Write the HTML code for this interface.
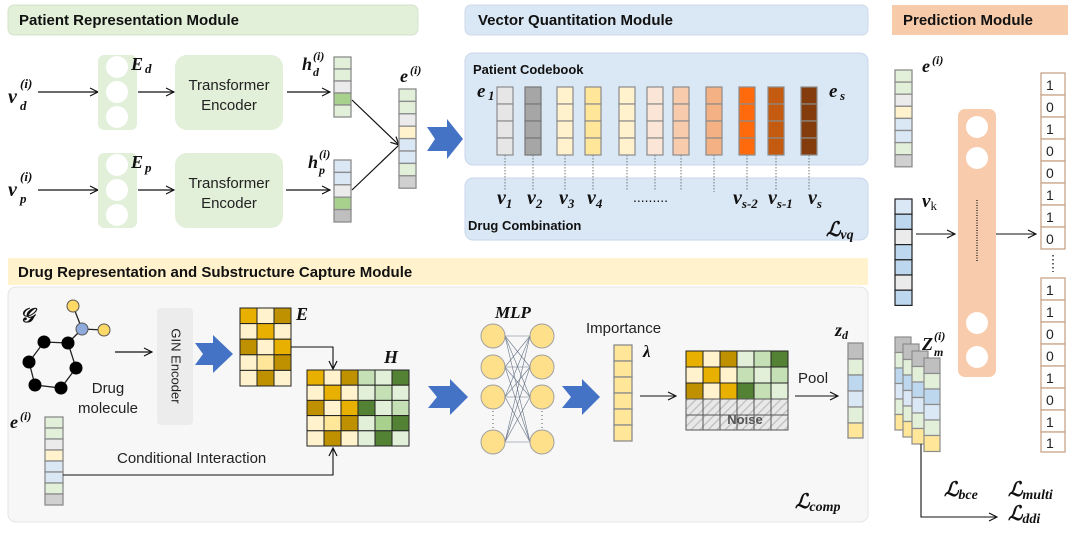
<!DOCTYPE html>
<html><head><meta charset="utf-8"><style>
html,body{margin:0;padding:0;background:#fff;}
svg{display:block;}
.h{font-family:"Liberation Sans",sans-serif;font-weight:bold;font-size:15px;fill:#111;}
.s{font-family:"Liberation Sans",sans-serif;font-size:15px;fill:#222;}
.m{font-family:"Liberation Serif",serif;font-weight:bold;font-style:italic;fill:#111;}
.c rect{stroke:#8c8c8c;stroke-width:1.3;}
</style></head><body>
<svg width="1077" height="533" viewBox="0 0 1077 533" xmlns="http://www.w3.org/2000/svg">
<defs>
<marker id="a" markerWidth="10" markerHeight="10" refX="9" refY="5" orient="auto" markerUnits="userSpaceOnUse"><path d="M1,1 L9,5 L1,9" fill="none" stroke="#111" stroke-width="1.2"/></marker>
<pattern id="hat" width="6" height="6" patternUnits="userSpaceOnUse" patternTransform="rotate(45)"><rect width="6" height="6" fill="#e8e8e8"/><line x1="0" y1="0" x2="0" y2="6" stroke="#bdbdbd" stroke-width="2.5"/></pattern>
</defs>
<!-- headers -->
<rect x="8" y="5" width="410" height="30" rx="6" fill="#e2efd9" stroke="#d5e3cb"/>
<text class="h" x="19" y="25">Patient Representation Module</text>
<rect x="465" y="5" width="403" height="30" rx="6" fill="#dae7f5" stroke="#cbd9ea"/>
<text class="h" x="478" y="25">Vector Quantitation Module</text>
<rect x="892" y="5" width="176" height="30" fill="#f7caa9"/>
<text class="h" x="903" y="25">Prediction Module</text>

<!-- patient rows -->
<text class="m" x="8" y="103" font-size="20">v</text><text class="m" x="20" y="110" font-size="13">d</text><text class="m" x="20" y="88" font-size="13">(i)</text>
<line x1="38" y1="92" x2="98" y2="92" stroke="#111" stroke-width="1.2" marker-end="url(#a)"/>
<rect x="98" y="55" width="39" height="75" rx="6" fill="#e2efd9"/>
<circle cx="117" cy="67" r="11" fill="#fff"/><circle cx="117" cy="92" r="11" fill="#fff"/><circle cx="117" cy="117" r="11" fill="#fff"/>
<text class="m" x="131" y="70" font-size="18">E</text><text class="m" x="145" y="73" font-size="13">d</text>
<line x1="138" y1="92" x2="174" y2="92" stroke="#111" stroke-width="1.2" marker-end="url(#a)"/>
<rect x="175" y="55" width="108" height="75" rx="12" fill="#e2efd9"/>
<text class="s" x="229" y="90" text-anchor="middle">Transformer</text><text class="s" x="229" y="110" text-anchor="middle">Encoder</text>
<line x1="287" y1="92" x2="330" y2="92" stroke="#111" stroke-width="1.2" marker-end="url(#a)"/>
<text class="m" x="302" y="70" font-size="18">h</text><text class="m" x="313" y="76" font-size="12">d</text><text class="m" x="313" y="60" font-size="12">(i)</text>
<g class="c"><rect x="334" y="57" width="17" height="12" fill="#e2efd9"/><rect x="334" y="69" width="17" height="12" fill="#e2efd9"/><rect x="334" y="81" width="17" height="12" fill="#ebebeb"/><rect x="334" y="93" width="17" height="12" fill="#a9d18e"/><rect x="334" y="105" width="17" height="12" fill="#e2efd9"/></g>

<text class="m" x="8" y="196" font-size="20">v</text><text class="m" x="20" y="203" font-size="13">p</text><text class="m" x="20" y="181" font-size="13">(i)</text>
<line x1="38" y1="190" x2="98" y2="190" stroke="#111" stroke-width="1.2" marker-end="url(#a)"/>
<rect x="98" y="153" width="39" height="75" rx="6" fill="#e2efd9"/>
<circle cx="117" cy="165" r="11" fill="#fff"/><circle cx="117" cy="190" r="11" fill="#fff"/><circle cx="117" cy="215" r="11" fill="#fff"/>
<text class="m" x="131" y="168" font-size="18">E</text><text class="m" x="145" y="172" font-size="13">p</text>
<line x1="138" y1="190" x2="174" y2="190" stroke="#111" stroke-width="1.2" marker-end="url(#a)"/>
<rect x="175" y="153" width="108" height="75" rx="12" fill="#e2efd9"/>
<text class="s" x="229" y="188" text-anchor="middle">Transformer</text><text class="s" x="229" y="208" text-anchor="middle">Encoder</text>
<line x1="286" y1="190" x2="330" y2="190" stroke="#111" stroke-width="1.2" marker-end="url(#a)"/>
<text class="m" x="308" y="168" font-size="18">h</text><text class="m" x="319" y="174" font-size="12">p</text><text class="m" x="319" y="158" font-size="12">(i)</text>
<g class="c"><rect x="334" y="160" width="17" height="12.4" fill="#dae7f5"/><rect x="334" y="172.4" width="17" height="12.4" fill="#dae7f5"/><rect x="334" y="184.8" width="17" height="12.4" fill="#ebebeb"/><rect x="334" y="197.2" width="17" height="12.4" fill="#a9d18e"/><rect x="334" y="209.6" width="17" height="12.4" fill="#bfbfbf"/></g>

<line x1="352" y1="100" x2="399" y2="145" stroke="#111" stroke-width="1.2" marker-end="url(#a)"/>
<line x1="352" y1="190" x2="399" y2="145" stroke="#111" stroke-width="1.2"/>
<text class="m" x="400" y="82" font-size="18">e</text><text class="m" x="410" y="74" font-size="12">(i)</text>
<g class="c"><rect x="399" y="89" width="17" height="12.4" fill="#e2efd9"/><rect x="399" y="101.4" width="17" height="12.4" fill="#e2efd9"/><rect x="399" y="113.8" width="17" height="12.4" fill="#ebebeb"/><rect x="399" y="126.2" width="17" height="12.4" fill="#fff2cc"/><rect x="399" y="138.6" width="17" height="12.4" fill="#dae7f5"/><rect x="399" y="151" width="17" height="12.4" fill="#dae7f5"/><rect x="399" y="163.4" width="17" height="12.4" fill="#e2efd9"/><rect x="399" y="175.8" width="17" height="12.4" fill="#d0d0d0"/></g>
<path d="M427,127 L447,127 L447,119 L463,139 L447,159 L447,151 L427,151 L435,139 Z" fill="#4472c4"/>

<!-- VQ -->
<rect x="465" y="53" width="403" height="112" rx="8" fill="#dae7f5" stroke="#c8d7ea"/>
<rect x="465" y="178" width="403" height="62" rx="8" fill="#dae7f5" stroke="#c8d7ea"/>
<text class="h" x="473" y="74" font-size="13" style="font-size:13px">Patient Codebook</text>
<text class="h" x="468" y="230" style="font-size:13px">Drug Combination</text>
<text class="m" x="477" y="97" font-size="19">e</text><text class="m" x="488" y="100" font-size="13">1</text>
<text class="m" x="829" y="97" font-size="19">e</text><text class="m" x="840" y="100" font-size="13">s</text>
<g stroke="#777" stroke-dasharray="1.5,1.5" stroke-width="1">
<line x1="505" y1="155" x2="505" y2="190"/><line x1="533" y1="155" x2="533" y2="190"/><line x1="565" y1="155" x2="565" y2="190"/><line x1="593" y1="155" x2="593" y2="190"/><line x1="627" y1="155" x2="627" y2="191"/><line x1="655" y1="155" x2="655" y2="191"/><line x1="681" y1="155" x2="681" y2="191"/><line x1="714" y1="155" x2="714" y2="192"/><line x1="747" y1="155" x2="747" y2="190"/><line x1="776" y1="155" x2="776" y2="190"/><line x1="809" y1="155" x2="809" y2="190"/></g>
<g stroke="#8c8c8c" stroke-width="1.2">
<g fill="#e6e6e6"><rect x="497" y="87" width="16" height="17"/><rect x="497" y="104" width="16" height="17"/><rect x="497" y="121" width="16" height="17"/><rect x="497" y="138" width="16" height="17"/></g>
<g fill="#a6a6a6" stroke="#777"><rect x="525" y="87" width="16" height="17"/><rect x="525" y="104" width="16" height="17"/><rect x="525" y="121" width="16" height="17"/><rect x="525" y="138" width="16" height="17"/></g>
<g fill="#fff2cc"><rect x="557" y="87" width="16" height="17"/><rect x="557" y="104" width="16" height="17"/><rect x="557" y="121" width="16" height="17"/><rect x="557" y="138" width="16" height="17"/></g>
<g fill="#ffe699"><rect x="585" y="87" width="16" height="17"/><rect x="585" y="104" width="16" height="17"/><rect x="585" y="121" width="16" height="17"/><rect x="585" y="138" width="16" height="17"/></g>
<g fill="#fff2cc"><rect x="619" y="87" width="16" height="17"/><rect x="619" y="104" width="16" height="17"/><rect x="619" y="121" width="16" height="17"/><rect x="619" y="138" width="16" height="17"/></g>
<g fill="#fbe5d6"><rect x="647" y="87" width="16" height="17"/><rect x="647" y="104" width="16" height="17"/><rect x="647" y="121" width="16" height="17"/><rect x="647" y="138" width="16" height="17"/></g>
<g fill="#f8cbad"><rect x="673" y="87" width="16" height="17"/><rect x="673" y="104" width="16" height="17"/><rect x="673" y="121" width="16" height="17"/><rect x="673" y="138" width="16" height="17"/></g>
<g fill="#f4b183"><rect x="706" y="87" width="16" height="17"/><rect x="706" y="104" width="16" height="17"/><rect x="706" y="121" width="16" height="17"/><rect x="706" y="138" width="16" height="17"/></g>
<g fill="#ff6a0d"><rect x="739" y="87" width="16" height="17"/><rect x="739" y="104" width="16" height="17"/><rect x="739" y="121" width="16" height="17"/><rect x="739" y="138" width="16" height="17"/></g>
<g fill="#c55a11"><rect x="768" y="87" width="16" height="17"/><rect x="768" y="104" width="16" height="17"/><rect x="768" y="121" width="16" height="17"/><rect x="768" y="138" width="16" height="17"/></g>
<g fill="#843c0c"><rect x="801" y="87" width="16" height="17"/><rect x="801" y="104" width="16" height="17"/><rect x="801" y="121" width="16" height="17"/><rect x="801" y="138" width="16" height="17"/></g>
</g>
<g class="m" font-size="20">
<text x="497" y="204">v<tspan font-size="13" dy="4">1</tspan></text>
<text x="527" y="204">v<tspan font-size="13" dy="4">2</tspan></text>
<text x="559" y="204">v<tspan font-size="13" dy="4">3</tspan></text>
<text x="587" y="204">v<tspan font-size="13" dy="4">4</tspan></text>
<text x="733" y="204">v<tspan font-size="13" dy="4">s-2</tspan></text>
<text x="768" y="204">v<tspan font-size="13" dy="4">s-1</tspan></text>
<text x="808" y="204">v<tspan font-size="13" dy="4">s</tspan></text>
</g>
<text x="633" y="202" font-family="Liberation Sans" font-size="14" fill="#111">.........</text>
<text class="m" x="826" y="236" font-size="20">ℒ<tspan font-size="14" dy="3">vq</tspan></text>

<!-- drug module -->
<rect x="8" y="258" width="860" height="27" fill="#fff2cc"/>
<text class="h" x="18" y="277">Drug Representation and Substructure Capture Module</text>
<rect x="8" y="287" width="860" height="235" rx="8" fill="#f7f7f7" stroke="#e4e4e4"/>
<text class="m" x="20" y="322" font-size="20">𝒢</text>
<g stroke="#222" stroke-width="1.3">
<polyline points="44,342 68,343 76,368 61,388 35,385 29,362 44,342" fill="none"/>
<line x1="68" y1="343" x2="82" y2="329"/><line x1="82" y1="329" x2="73" y2="306"/><line x1="82" y1="329" x2="104" y2="330"/>
</g>
<g fill="#000"><circle cx="44" cy="342" r="6.5"/><circle cx="68" cy="343" r="6.5"/><circle cx="29" cy="362" r="6.5"/><circle cx="76" cy="368" r="6.5"/><circle cx="35" cy="385" r="6.5"/><circle cx="61" cy="388" r="6.5"/></g>
<circle cx="82" cy="329" r="6" fill="#8faadc" stroke="#555"/><circle cx="73" cy="306" r="6" fill="#ffd966" stroke="#555"/><circle cx="104" cy="330" r="6" fill="#ffd966" stroke="#555"/>
<text class="s" x="108" y="393" text-anchor="middle">Drug</text><text class="s" x="108" y="413" text-anchor="middle">molecule</text>
<line x1="115" y1="352" x2="152" y2="352" stroke="#111" stroke-width="1.2" marker-end="url(#a)"/>
<rect x="157" y="308" width="36" height="117" rx="4" fill="#ececec"/>
<text class="s" x="175" y="366" transform="rotate(90 175 366)" text-anchor="middle" dominant-baseline="middle" style="font-size:13px">GIN Encoder</text>
<path d="M195,343 L213,343 L213,335 L233,354 L213,373 L213,365 L195,365 L203,354 Z" fill="#4472c4"/>
<g stroke="#222" stroke-width="1">
<rect x="240" y="308" width="17" height="15.6" fill="#e8b000"/><rect x="257" y="308" width="17" height="15.6" fill="#fff2cc"/><rect x="274" y="308" width="17" height="15.6" fill="#bf9000"/>
<rect x="240" y="323.6" width="17" height="15.6" fill="#fff2cc"/><rect x="257" y="323.6" width="17" height="15.6" fill="#e8b000"/><rect x="274" y="323.6" width="17" height="15.6" fill="#fff2cc"/>
<rect x="240" y="339.2" width="17" height="15.6" fill="#bf9000"/><rect x="257" y="339.2" width="17" height="15.6" fill="#fff2cc"/><rect x="274" y="339.2" width="17" height="15.6" fill="#e8b000"/>
<rect x="240" y="354.8" width="17" height="15.6" fill="#fff2cc"/><rect x="257" y="354.8" width="17" height="15.6" fill="#ffe699"/><rect x="274" y="354.8" width="17" height="15.6" fill="#bf9000"/>
<rect x="240" y="370.4" width="17" height="15.6" fill="#fff2cc"/><rect x="257" y="370.4" width="17" height="15.6" fill="#bf9000"/><rect x="274" y="370.4" width="17" height="15.6" fill="#fff2cc"/>
</g>
<text class="m" x="296" y="320" font-size="18">E</text>
<polyline points="291,347 333,347 333,369" fill="none" stroke="#111" stroke-width="1.1" marker-end="url(#a)"/>
<text class="m" x="384" y="363" font-size="18">H</text>
<g stroke="#222" stroke-width="1">
<rect x="307" y="370" width="17" height="15.2" fill="#e8b000"/><rect x="324" y="370" width="17" height="15.2" fill="#fff2cc"/><rect x="341" y="370" width="17" height="15.2" fill="#bf9000"/><rect x="358" y="370" width="17" height="15.2" fill="#c5e0b4"/><rect x="375" y="370" width="17" height="15.2" fill="#e2efd9"/><rect x="392" y="370" width="17" height="15.2" fill="#548235"/>
<rect x="307" y="385.2" width="17" height="15.2" fill="#fff2cc"/><rect x="324" y="385.2" width="17" height="15.2" fill="#e8b000"/><rect x="341" y="385.2" width="17" height="15.2" fill="#fff2cc"/><rect x="358" y="385.2" width="17" height="15.2" fill="#e2efd9"/><rect x="375" y="385.2" width="17" height="15.2" fill="#c5e0b4"/><rect x="392" y="385.2" width="17" height="15.2" fill="#e2efd9"/>
<rect x="307" y="400.4" width="17" height="15.2" fill="#bf9000"/><rect x="324" y="400.4" width="17" height="15.2" fill="#fff2cc"/><rect x="341" y="400.4" width="17" height="15.2" fill="#e8b000"/><rect x="358" y="400.4" width="17" height="15.2" fill="#548235"/><rect x="375" y="400.4" width="17" height="15.2" fill="#e2efd9"/><rect x="392" y="400.4" width="17" height="15.2" fill="#c5e0b4"/>
<rect x="307" y="415.6" width="17" height="15.2" fill="#fff2cc"/><rect x="324" y="415.6" width="17" height="15.2" fill="#ffe699"/><rect x="341" y="415.6" width="17" height="15.2" fill="#bf9000"/><rect x="358" y="415.6" width="17" height="15.2" fill="#e2efd9"/><rect x="375" y="415.6" width="17" height="15.2" fill="#a9d18e"/><rect x="392" y="415.6" width="17" height="15.2" fill="#548235"/>
<rect x="307" y="430.8" width="17" height="15.2" fill="#fff2cc"/><rect x="324" y="430.8" width="17" height="15.2" fill="#bf9000"/><rect x="341" y="430.8" width="17" height="15.2" fill="#fff2cc"/><rect x="358" y="430.8" width="17" height="15.2" fill="#e2efd9"/><rect x="375" y="430.8" width="17" height="15.2" fill="#548235"/><rect x="392" y="430.8" width="17" height="15.2" fill="#e2efd9"/>
</g>
<text class="m" x="10" y="428" font-size="18">e</text><text class="m" x="20" y="420" font-size="12">(i)</text>
<g class="c"><rect x="45" y="417" width="18" height="11" fill="#e2efd9"/><rect x="45" y="428" width="18" height="11" fill="#e2efd9"/><rect x="45" y="439" width="18" height="11" fill="#ebebeb"/><rect x="45" y="450" width="18" height="11" fill="#fff2cc"/><rect x="45" y="461" width="18" height="11" fill="#dae7f5"/><rect x="45" y="472" width="18" height="11" fill="#dae7f5"/><rect x="45" y="483" width="18" height="11" fill="#e2efd9"/><rect x="45" y="494" width="18" height="11" fill="#d0d0d0"/></g>
<polyline points="63,475 333,475 333,448" fill="none" stroke="#111" stroke-width="1.1" marker-end="url(#a)"/>
<text class="s" x="117" y="463">Conditional Interaction</text>
<path d="M428,386 L450,386 L450,379 L468,397 L450,415 L450,408 L428,408 L437,397 Z" fill="#4472c4"/>
<text class="m" x="495" y="318" font-size="17">MLP</text>
<g stroke="#44546a" stroke-width="0.6" opacity="0.8">
<line x1="505" y1="336" x2="530" y2="336"/><line x1="505" y1="336" x2="530" y2="367"/><line x1="505" y1="336" x2="530" y2="397"/><line x1="505" y1="336" x2="530" y2="442"/>
<line x1="505" y1="367" x2="530" y2="336"/><line x1="505" y1="367" x2="530" y2="367"/><line x1="505" y1="367" x2="530" y2="397"/><line x1="505" y1="367" x2="530" y2="442"/>
<line x1="505" y1="397" x2="530" y2="336"/><line x1="505" y1="397" x2="530" y2="367"/><line x1="505" y1="397" x2="530" y2="397"/><line x1="505" y1="397" x2="530" y2="442"/>
<line x1="505" y1="442" x2="530" y2="336"/><line x1="505" y1="442" x2="530" y2="367"/><line x1="505" y1="442" x2="530" y2="397"/><line x1="505" y1="442" x2="530" y2="442"/>
</g>
<g fill="#ffe08a" stroke="#a0a0a0"><circle cx="493" cy="336" r="12"/><circle cx="493" cy="367" r="12"/><circle cx="493" cy="397" r="12"/><circle cx="493" cy="442" r="12"/><circle cx="542" cy="336" r="12"/><circle cx="542" cy="367" r="12"/><circle cx="542" cy="397" r="12"/><circle cx="542" cy="442" r="12"/></g>
<g stroke="#555" stroke-dasharray="1,3"><line x1="493" y1="411" x2="493" y2="428"/><line x1="542" y1="411" x2="542" y2="428"/></g>
<path d="M562,386 L582,386 L582,379 L600,397 L582,415 L582,408 L562,408 L571,397 Z" fill="#4472c4"/>
<text class="s" x="586" y="333">Importance</text>
<text class="m" x="643" y="357" font-size="17" font-style="normal">λ</text>
<g class="c"><rect x="614" y="345" width="18" height="16" fill="#ffe699"/><rect x="614" y="361" width="18" height="16" fill="#ffe699"/><rect x="614" y="377" width="18" height="16" fill="#ffe699"/><rect x="614" y="393" width="18" height="16" fill="#ffe699"/><rect x="614" y="409" width="18" height="16" fill="#ffe699"/><rect x="614" y="425" width="18" height="16" fill="#ffe699"/></g>
<line x1="640" y1="396" x2="676" y2="396" stroke="#111" stroke-width="1.1" marker-end="url(#a)"/>
<g stroke="#222" stroke-width="1">
<rect x="686" y="351" width="17" height="16" fill="#e8b000"/><rect x="703" y="351" width="17" height="16" fill="#fff2cc"/><rect x="720" y="351" width="17" height="16" fill="#bf9000"/><rect x="737" y="351" width="17" height="16" fill="#e2efd9"/><rect x="754" y="351" width="17" height="16" fill="#c5e0b4"/><rect x="771" y="351" width="17" height="16" fill="#548235"/>
<rect x="686" y="367" width="17" height="16" fill="#fff2cc"/><rect x="703" y="367" width="17" height="16" fill="#e8b000"/><rect x="720" y="367" width="17" height="16" fill="#fff2cc"/><rect x="737" y="367" width="17" height="16" fill="#c5e0b4"/><rect x="754" y="367" width="17" height="16" fill="#e2efd9"/><rect x="771" y="367" width="17" height="16" fill="#c5e0b4"/>
<rect x="686" y="383" width="17" height="16" fill="#bf9000"/><rect x="703" y="383" width="17" height="16" fill="#fff2cc"/><rect x="720" y="383" width="17" height="16" fill="#e8b000"/><rect x="737" y="383" width="17" height="16" fill="#548235"/><rect x="754" y="383" width="17" height="16" fill="#c5e0b4"/><rect x="771" y="383" width="17" height="16" fill="#e2efd9"/>
</g>
<g stroke="#555" stroke-width="1" fill="url(#hat)">
<rect x="686" y="399" width="17" height="16"/><rect x="703" y="399" width="17" height="16"/><rect x="720" y="399" width="17" height="16"/><rect x="737" y="399" width="17" height="16"/><rect x="754" y="399" width="17" height="16"/><rect x="771" y="399" width="17" height="16"/>
<rect x="686" y="415" width="17" height="15"/><rect x="703" y="415" width="17" height="15"/><rect x="720" y="415" width="17" height="15"/><rect x="737" y="415" width="17" height="15"/><rect x="754" y="415" width="17" height="15"/><rect x="771" y="415" width="17" height="15"/>
</g>
<text x="745" y="424" text-anchor="middle" font-family="Liberation Sans" font-weight="bold" font-size="13" fill="#555">Noise</text>
<line x1="795" y1="396" x2="838" y2="396" stroke="#111" stroke-width="1.1" marker-end="url(#a)"/>
<text class="s" x="798" y="383">Pool</text>
<text class="m" x="835" y="336" font-size="18">z<tspan font-size="12" dy="3">d</tspan></text>
<g class="c"><rect x="848" y="343" width="15" height="16" fill="#bfbfbf"/><rect x="848" y="359" width="15" height="16" fill="#e2efd9"/><rect x="848" y="375" width="15" height="16" fill="#bdd7ee"/><rect x="848" y="391" width="15" height="16" fill="#dae7f5"/><rect x="848" y="407" width="15" height="16" fill="#e2efd9"/><rect x="848" y="423" width="15" height="15" fill="#ffe699"/></g>
<text class="m" x="795" y="508" font-size="20">ℒ<tspan font-size="14" dy="3">comp</tspan></text>

<!-- prediction -->
<text class="m" x="922" y="72" font-size="18">e</text><text class="m" x="932" y="64" font-size="12">(i)</text>
<g class="c"><rect x="895" y="70" width="17" height="12.1" fill="#e2efd9"/><rect x="895" y="82.1" width="17" height="12.1" fill="#e2efd9"/><rect x="895" y="94.2" width="17" height="12.1" fill="#ebebeb"/><rect x="895" y="106.3" width="17" height="12.1" fill="#fff2cc"/><rect x="895" y="118.4" width="17" height="12.1" fill="#dae7f5"/><rect x="895" y="130.5" width="17" height="12.1" fill="#dae7f5"/><rect x="895" y="142.6" width="17" height="12.1" fill="#e2efd9"/><rect x="895" y="154.7" width="17" height="12.1" fill="#d0d0d0"/></g>
<text class="m" x="922" y="207" font-size="19">v<tspan font-size="13" dy="3" font-style="normal" font-weight="normal">k</tspan></text>
<g stroke="#222" stroke-width="1.2"><rect x="895" y="199" width="17" height="15.2" fill="#dae7f5"/><rect x="895" y="214.2" width="17" height="15.2" fill="#bdd7ee"/><rect x="895" y="229.4" width="17" height="15.2" fill="#ebebeb"/><rect x="895" y="244.6" width="17" height="15.2" fill="#bdd7ee"/><rect x="895" y="259.8" width="17" height="15.2" fill="#bdd7ee"/><rect x="895" y="275" width="17" height="15.2" fill="#ebebeb"/><rect x="895" y="290.2" width="17" height="15.2" fill="#bdd7ee"/></g>
<line x1="916" y1="234" x2="955" y2="234" stroke="#111" stroke-width="1.1" marker-end="url(#a)"/>
<rect x="958" y="109" width="38" height="268" rx="7" fill="#f8cbad"/>
<g fill="#fff"><circle cx="977" cy="127" r="11"/><circle cx="977" cy="158" r="11"/><circle cx="977" cy="323" r="11"/><circle cx="977" cy="357" r="11"/></g>
<line x1="977" y1="200" x2="977" y2="261" stroke="#333" stroke-width="1.5" stroke-dasharray="1,1.5"/>
<line x1="996" y1="234" x2="1036" y2="234" stroke="#111" stroke-width="1.1" marker-end="url(#a)"/>
<g stroke="#c9a58a" stroke-width="1.3" fill="#fff">
<rect x="1041" y="73" width="24" height="22"/><rect x="1041" y="95" width="24" height="22"/><rect x="1041" y="117" width="24" height="22"/><rect x="1041" y="139" width="24" height="22"/><rect x="1041" y="161" width="24" height="22"/><rect x="1041" y="183" width="24" height="22"/><rect x="1041" y="205" width="24" height="22"/><rect x="1041" y="227" width="24" height="22"/>
<rect x="1041" y="278" width="24" height="22"/><rect x="1041" y="300" width="24" height="22"/><rect x="1041" y="322" width="24" height="22"/><rect x="1041" y="344" width="24" height="22"/><rect x="1041" y="366" width="24" height="22"/><rect x="1041" y="388" width="24" height="22"/><rect x="1041" y="410" width="24" height="22"/><rect x="1041" y="432" width="24" height="20"/>
</g>
<g class="s" style="font-size:14px">
<text x="1046" y="90">1</text><text x="1046" y="112">0</text><text x="1046" y="134">1</text><text x="1046" y="156">0</text><text x="1046" y="178">0</text><text x="1046" y="200">1</text><text x="1046" y="222">1</text><text x="1046" y="244">0</text>
<text x="1046" y="295">1</text><text x="1046" y="317">1</text><text x="1046" y="339">0</text><text x="1046" y="361">0</text><text x="1046" y="383">1</text><text x="1046" y="405">0</text><text x="1046" y="427">1</text><text x="1046" y="448">1</text>
</g>
<line x1="1053" y1="255" x2="1053" y2="272" stroke="#333" stroke-width="1.5" stroke-dasharray="1.5,2.5"/>
<text class="m" x="922" y="350" font-size="18">Z</text><text class="m" x="934" y="356" font-size="12">m</text><text class="m" x="934" y="340" font-size="12">(i)</text>
<g stroke="#8c8c8c" stroke-width="1.2">
<rect x="895" y="337" width="16" height="15.5" fill="#bfbfbf"/><rect x="895" y="352.5" width="16" height="15.5" fill="#e2efd9"/><rect x="895" y="368" width="16" height="15.5" fill="#bdd7ee"/><rect x="895" y="383.5" width="16" height="15.5" fill="#dae7f5"/><rect x="895" y="399" width="16" height="15.5" fill="#e2efd9"/><rect x="895" y="414.5" width="16" height="15.5" fill="#ffe699"/>
<rect x="903" y="344" width="16" height="15.5" fill="#bfbfbf"/><rect x="903" y="359.5" width="16" height="15.5" fill="#e2efd9"/><rect x="903" y="375" width="16" height="15.5" fill="#bdd7ee"/><rect x="903" y="390.5" width="16" height="15.5" fill="#dae7f5"/><rect x="903" y="406" width="16" height="15.5" fill="#e2efd9"/><rect x="903" y="421.5" width="16" height="15.5" fill="#ffe699"/>
<rect x="912" y="351" width="16" height="15.5" fill="#bfbfbf"/><rect x="912" y="366.5" width="16" height="15.5" fill="#e2efd9"/><rect x="912" y="382" width="16" height="15.5" fill="#bdd7ee"/><rect x="912" y="397.5" width="16" height="15.5" fill="#dae7f5"/><rect x="912" y="413" width="16" height="15.5" fill="#e2efd9"/><rect x="912" y="428.5" width="16" height="15.5" fill="#ffe699"/>
<rect x="924" y="358" width="16" height="15.5" fill="#bfbfbf"/><rect x="924" y="373.5" width="16" height="15.5" fill="#e2efd9"/><rect x="924" y="389" width="16" height="15.5" fill="#bdd7ee"/><rect x="924" y="404.5" width="16" height="15.5" fill="#dae7f5"/><rect x="924" y="420" width="16" height="15.5" fill="#e2efd9"/><rect x="924" y="435.5" width="16" height="16" fill="#ffe699"/>
</g>
<polyline points="921,444 921,517 997,517" fill="none" stroke="#111" stroke-width="1.1" marker-end="url(#a)"/>
<text class="m" x="944" y="496" font-size="20">ℒ<tspan font-size="14" dy="3">bce</tspan></text>
<text class="m" x="1008" y="496" font-size="20">ℒ<tspan font-size="14" dy="3">multi</tspan></text>
<text class="m" x="1008" y="520" font-size="20">ℒ<tspan font-size="14" dy="3">ddi</tspan></text>
</svg>
</body></html>
